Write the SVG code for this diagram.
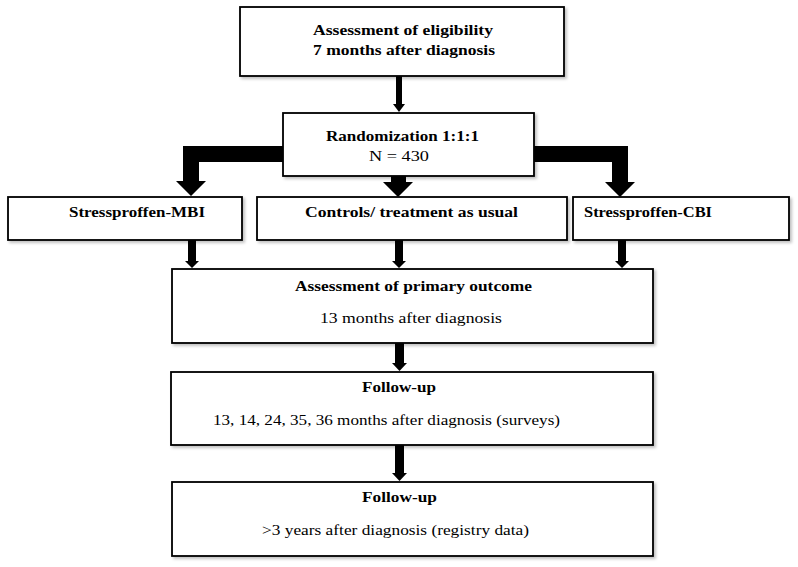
<svg xmlns="http://www.w3.org/2000/svg" width="798" height="567" viewBox="0 0 798 567">
<defs>
<filter id="sh" x="-5%" y="-5%" width="115%" height="125%">
<feDropShadow dx="2" dy="2" stdDeviation="1.5" flood-color="#000" flood-opacity="0.25"/>
</filter>
<style>
.box{fill:#fff;stroke:#000;stroke-width:1.8;filter:url(#sh)}
.arr{fill:#000;stroke:none}
.b{font-family:"Liberation Serif","Times New Roman",serif;font-weight:bold;font-size:15px;fill:#000}
.r{font-family:"Liberation Serif","Times New Roman",serif;font-size:15px;fill:#000}
</style>
</defs>
<rect width="798" height="567" fill="#fff"/>
<g id="connectors">
<polygon class="arr" points="396,76 402,76 402,104 405,104 399,112 393,104 396,104"/>
<polygon class="arr" points="283,146 183,146 183,181 176,181 191,196 206,181 199,181 199,162 283,162"/>
<polygon class="arr" points="534,146 628,146 628,182 635,182 620,197 605,182 612,182 612,162 534,162"/>
<polygon class="arr" points="391,176 406,176 406,182 413,182 398,197 383,182 391,182"/>
<polygon class="arr" points="188,240 196,240 196,261 199,261 192,268 185,261 188,261"/>
<polygon class="arr" points="395,240 403,240 403,261 406,261 399,268 392,261 395,261"/>
<polygon class="arr" points="618,240 626,240 626,261 629,261 622,268 615,261 618,261"/>
<polygon class="arr" points="395,343 404,343 404,363 407,363 399.5,371 392,363 395,363"/>
<polygon class="arr" points="395,445 404,445 404,473 407,473 399.5,481 392,473 395,473"/>
</g>
<g id="eligibility">
<rect class="box" x="240" y="7" width="324" height="69"/>
<text class="b" x="313" y="35" textLength="180" lengthAdjust="spacingAndGlyphs">Assessment of eligibility</text>
<text class="b" x="313" y="55" textLength="182" lengthAdjust="spacingAndGlyphs">7 months after diagnosis</text>
</g>
<g id="randomization">
<rect class="box" x="283" y="113" width="251" height="63"/>
<text class="b" x="326" y="141" textLength="153" lengthAdjust="spacingAndGlyphs">Randomization 1:1:1</text>
<text class="r" x="369" y="161" textLength="60" lengthAdjust="spacingAndGlyphs">N = 430</text>
</g>
<g id="mbi">
<rect class="box" x="8" y="197" width="234" height="43"/>
<text class="b" x="69" y="217" textLength="136" lengthAdjust="spacingAndGlyphs">Stressproffen-MBI</text>
</g>
<g id="controls">
<rect class="box" x="257" y="197" width="310" height="43"/>
<text class="b" x="305" y="217" textLength="213" lengthAdjust="spacingAndGlyphs">Controls/ treatment as usual</text>
</g>
<g id="cbi">
<rect class="box" x="573" y="197" width="216" height="43"/>
<text class="b" x="584" y="217" textLength="128" lengthAdjust="spacingAndGlyphs">Stressproffen-CBI</text>
</g>
<g id="primary">
<rect class="box" x="172" y="269" width="481" height="74"/>
<text class="b" x="295" y="291" textLength="237" lengthAdjust="spacingAndGlyphs">Assessment of primary outcome</text>
<text class="r" x="320" y="323" textLength="182" lengthAdjust="spacingAndGlyphs">13 months after diagnosis</text>
</g>
<g id="followup1">
<rect class="box" x="171" y="372" width="482" height="73"/>
<text class="b" x="362" y="392" textLength="74" lengthAdjust="spacingAndGlyphs">Follow-up</text>
<text class="r" x="213" y="425" textLength="347" lengthAdjust="spacingAndGlyphs">13, 14, 24, 35, 36 months after diagnosis (surveys)</text>
</g>
<g id="followup2">
<rect class="box" x="172" y="482" width="481" height="74"/>
<text class="b" x="362" y="502" textLength="75" lengthAdjust="spacingAndGlyphs">Follow-up</text>
<text class="r" x="262" y="535" textLength="267" lengthAdjust="spacingAndGlyphs">&gt;3 years after diagnosis (registry data)</text>
</g>
</svg>
